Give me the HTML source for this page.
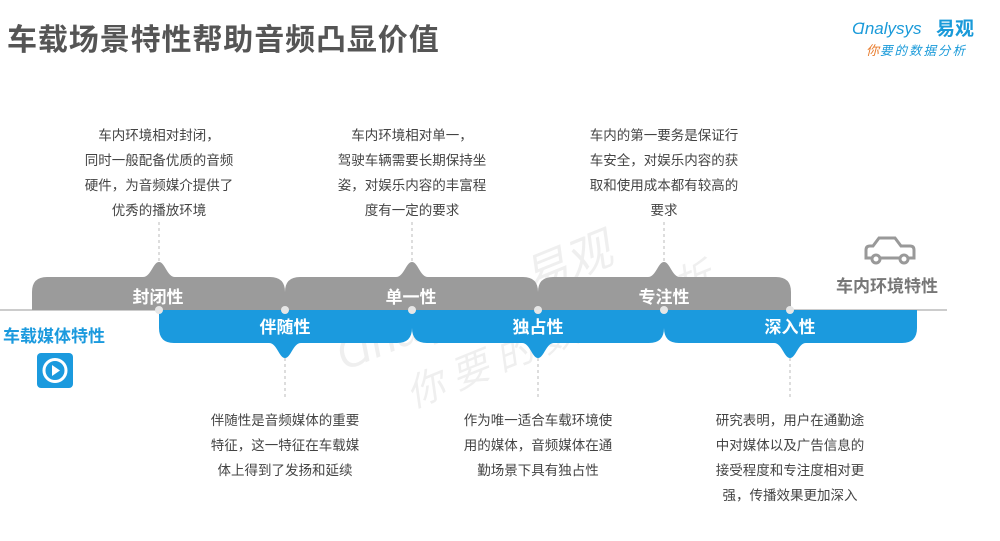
<!DOCTYPE html>
<html><head><meta charset="utf-8"><style>
html,body{margin:0;padding:0;background:#fff;}
body{width:1000px;height:536px;overflow:hidden;position:relative;font-family:"Liberation Sans","Noto Sans CJK SC",sans-serif;}
svg text{font-family:"Liberation Sans","Noto Sans CJK SC",sans-serif;}
</style></head><body>
<svg width="1000" height="536" viewBox="0 0 1000 536" xmlns="http://www.w3.org/2000/svg">
<text x="7" y="50" font-size="30" font-weight="bold" fill="#555" letter-spacing="0.9">车载场景特性帮助音频凸显价值</text>
<!-- logo -->
<text x="852" y="34" font-size="17" fill="#1a9ad9" font-style="italic">Ɑnalysys</text>
<text x="936" y="35" font-size="19" font-weight="bold" fill="#1a9ad9">易观</text>
<text x="866" y="55" font-size="13" fill="#e87a2a" font-style="italic">你</text>
<text x="880" y="55" font-size="12.5" fill="#1a9ad9" letter-spacing="2" font-style="italic">要的数据分析</text>
<!-- watermark -->
<g opacity="0.13" fill="#888" transform="rotate(-22 520 300)">
<text x="330" y="300" font-size="46" font-style="italic">Ɑnalysys 易观</text>
<text x="380" y="360" font-size="38" font-style="italic" letter-spacing="10">你要的数据分析</text>
</g>
<!-- baseline -->
<line x1="0" y1="310" x2="947" y2="310" stroke="#ccc" stroke-width="2"/>
<!-- dashed lines -->
<g stroke="#bbb" stroke-dasharray="3,3" stroke-width="1">
<line x1="159" y1="222" x2="159" y2="262"/>
<line x1="412" y1="222" x2="412" y2="262"/>
<line x1="664" y1="222" x2="664" y2="262"/>
<line x1="285" y1="358" x2="285" y2="400"/>
<line x1="538" y1="358" x2="538" y2="400"/>
<line x1="790" y1="358" x2="790" y2="400"/>
</g>
<!-- gray segments -->
<g fill="#9b9b9b">
<path d="M32,310 V292 Q32,277 47,277 H143 C151,277 153,262 159,262 C165,262 167,277 175,277 H270 Q285,277 285,292 V310 Z"/>
<path d="M285,310 V292 Q285,277 300,277 H396 C404,277 406,262 412,262 C418,262 420,277 428,277 H523 Q538,277 538,292 V310 Z"/>
<path d="M538,310 V292 Q538,277 553,277 H648 C656,277 658,262 664,262 C670,262 672,277 680,277 H776 Q791,277 791,292 V310 Z"/>
</g>
<!-- blue segments -->
<g fill="#1b9ade">
<path d="M159,310 V328 Q159,343 174,343 H269 C277,343 279,358 285,358 C291,358 293,343 301,343 H397 Q412,343 412,328 V310 Z"/>
<path d="M412,310 V328 Q412,343 427,343 H522 C530,343 532,358 538,358 C544,358 546,343 554,343 H649 Q664,343 664,328 V310 Z"/>
<path d="M664,310 V328 Q664,343 679,343 H774 C782,343 784,358 790,358 C796,358 798,343 806,343 H902 Q917,343 917,328 V310 Z"/>
</g>
<!-- dots -->
<g fill="#e6e6e6">
<circle cx="159" cy="310" r="4"/><circle cx="285" cy="310" r="4"/><circle cx="412" cy="310" r="4"/>
<circle cx="538" cy="310" r="4"/><circle cx="664" cy="310" r="4"/><circle cx="790" cy="310" r="4"/>
</g>
<!-- segment labels -->
<g fill="#fff" font-size="17" font-weight="bold" text-anchor="middle">
<text x="158" y="303">封闭性</text>
<text x="411" y="303">单一性</text>
<text x="664" y="303">专注性</text>
<text x="285" y="333">伴随性</text>
<text x="538" y="333">独占性</text>
<text x="790" y="333">深入性</text>
</g>
<!-- left label + icon -->
<text x="3" y="342" font-size="17" font-weight="bold" fill="#1b9ade">车载媒体特性</text>
<rect x="37" y="353" width="36" height="35" rx="4" fill="#1b9ade"/>
<circle cx="55" cy="370.5" r="11" fill="none" stroke="#fff" stroke-width="3"/>
<path d="M52,365 L60,370.5 L52,376 Z" fill="#fff"/>
<!-- right label + car -->
<text x="836" y="292" font-size="17" font-weight="bold" fill="#777">车内环境特性</text>
<g stroke="#999" stroke-width="3" fill="none">
<path d="M866,258 V250 Q866,246 870,246 H873 L879,238 H895 L901,246 H910 Q914,246 914,250 V258 Z" fill="#fff"/>
<circle cx="876" cy="259" r="4" fill="#fff"/><circle cx="904" cy="259" r="4" fill="#fff"/>
</g>
<!-- top texts -->
<g font-size="13.5" fill="#444" text-anchor="middle">
<text x="159" y="140">车内环境相对封闭，</text>
<text x="159" y="165">同时一般配备优质的音频</text>
<text x="159" y="190">硬件，为音频媒介提供了</text>
<text x="159" y="215">优秀的播放环境</text>
<text x="412" y="140">车内环境相对单一，</text>
<text x="412" y="165">驾驶车辆需要长期保持坐</text>
<text x="412" y="190">姿，对娱乐内容的丰富程</text>
<text x="412" y="215">度有一定的要求</text>
<text x="664" y="140">车内的第一要务是保证行</text>
<text x="664" y="165">车安全，对娱乐内容的获</text>
<text x="664" y="190">取和使用成本都有较高的</text>
<text x="664" y="215">要求</text>
<text x="285" y="425">伴随性是音频媒体的重要</text>
<text x="285" y="450">特征，这一特征在车载媒</text>
<text x="285" y="475">体上得到了发扬和延续</text>
<text x="538" y="425">作为唯一适合车载环境使</text>
<text x="538" y="450">用的媒体，音频媒体在通</text>
<text x="538" y="475">勤场景下具有独占性</text>
<text x="790" y="425">研究表明，用户在通勤途</text>
<text x="790" y="450">中对媒体以及广告信息的</text>
<text x="790" y="475">接受程度和专注度相对更</text>
<text x="790" y="500">强，传播效果更加深入</text>
</g>
</svg>
</body></html>
